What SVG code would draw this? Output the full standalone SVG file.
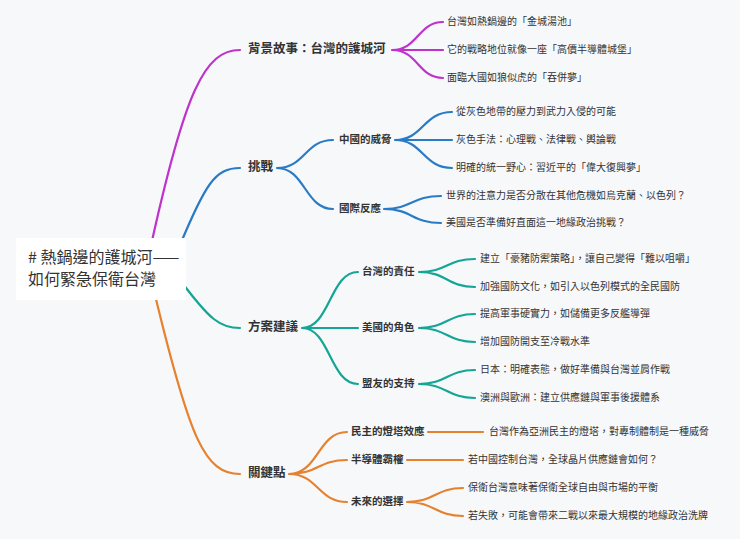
<svg xmlns="http://www.w3.org/2000/svg" width="740" height="539" viewBox="0 0 740 539">
<style>
text{font-family:"Noto Sans CJK TC","Noto Sans CJK SC",sans-serif;fill:#333;dominant-baseline:middle}
.l1{font-size:12.5px;font-weight:bold}
.l2{font-size:10.5px;font-weight:bold}
.lf{font-size:10px}
.c path{fill:none;stroke-width:2.2;stroke-linecap:round}
.p{stroke:#bf33cc}.b{stroke:#2a7bc6}.t{stroke:#15a596}.o{stroke:#e6812e}
</style>
<rect width="740" height="539" fill="#f7f8fa"/>
<g id="connectors" class="c">
<path class="p" d="M150,250 C185,90 205,50 240,50"/>
<path class="b" d="M180,245 C205,185 215,168 240,168"/>
<path class="t" d="M180,280 C210,320 220,328 240,328"/>
<path class="o" d="M155,295 C190,440 205,474 240,474"/>
<path class="p" d="M392,50 C418,50 418,22 443,22 M392,50 H443 M392,50 C418,50 418,78 443,78"/>
<path class="b" d="M277,168 C305,168 305,140 333,140 M277,168 C305,168 305,209 333,209"/>
<path class="b" d="M395,140 C423,140 423,112 452,112 M395,140 H452 M395,140 C423,140 423,168 452,168"/>
<path class="b" d="M384,209 C412,209 412,196 441,196 M384,209 C412,209 412,223 441,223"/>
<path class="t" d="M302,328 C330,328 330,272 358,272 M302,328 H358 M302,328 C330,328 330,384 358,384"/>
<path class="t" d="M419,272 C447,272 447,259 475,259 M419,272 C447,272 447,287 475,287"/>
<path class="t" d="M419,328 C447,328 447,314 475,314 M419,328 C447,328 447,342 475,342"/>
<path class="t" d="M419,384 C447,384 447,370 475,370 M419,384 C447,384 447,398 475,398"/>
<path class="o" d="M289,474 C318,474 318,432 347,432 M289,474 C318,474 318,460 347,460 M289,474 C318,474 318,502 347,502"/>
<path class="o" d="M428,432 H483"/>
<path class="o" d="M407,460 H463"/>
<path class="o" d="M407,502 C435,502 435,488 463,488 M407,502 C435,502 435,516 463,516"/>
</g>
<g id="root"><rect x="16" y="238" width="170" height="62" fill="#fff"/><text x="28" y="259" font-size="16"># 熱鍋邊的護城河——</text><text x="28" y="281" font-size="16">如何緊急保衛台灣</text></g>
<g id="n1"><text class="l1" x="248" y="50">背景故事：台灣的護城河</text></g>
<g id="n1a"><text class="lf" x="447" y="22">台灣如熱鍋邊的「金城湯池」</text></g>
<g id="n1b"><text class="lf" x="447" y="50">它的戰略地位就像一座「高價半導體城堡」</text></g>
<g id="n1c"><text class="lf" x="447" y="78">面臨大國如狼似虎的「吞併夢」</text></g>
<g id="n2"><text class="l1" x="248" y="168">挑戰</text></g>
<g id="n2a"><text class="l2" x="339" y="140">中國的威脅</text></g>
<g id="n2a1"><text class="lf" x="456" y="112">從灰色地帶的壓力到武力入侵的可能</text></g>
<g id="n2a2"><text class="lf" x="456" y="140">灰色手法：心理戰、法律戰、輿論戰</text></g>
<g id="n2a3"><text class="lf" x="456" y="168">明確的統一野心：習近平的「偉大復興夢」</text></g>
<g id="n2b"><text class="l2" x="339" y="209">國際反應</text></g>
<g id="n2b1"><text class="lf" x="446" y="196">世界的注意力是否分散在其他危機如烏克蘭、以色列？</text></g>
<g id="n2b2"><text class="lf" x="446" y="223">美國是否準備好直面這一地緣政治挑戰？</text></g>
<g id="n3"><text class="l1" x="248" y="328">方案建議</text></g>
<g id="n3a"><text class="l2" x="362" y="272">台灣的責任</text></g>
<g id="n3a1"><text class="lf" x="480" y="259">建立「豪豬防禦策略」，讓自己變得「難以咀嚼」</text></g>
<g id="n3a2"><text class="lf" x="480" y="287">加強國防文化，如引入以色列模式的全民國防</text></g>
<g id="n3b"><text class="l2" x="362" y="328">美國的角色</text></g>
<g id="n3b1"><text class="lf" x="480" y="314">提高軍事硬實力，如儲備更多反艦導彈</text></g>
<g id="n3b2"><text class="lf" x="480" y="342">增加國防開支至冷戰水準</text></g>
<g id="n3c"><text class="l2" x="362" y="384">盟友的支持</text></g>
<g id="n3c1"><text class="lf" x="480" y="370">日本：明確表態，做好準備與台灣並肩作戰</text></g>
<g id="n3c2"><text class="lf" x="480" y="398">澳洲與歐洲：建立供應鏈與軍事後援體系</text></g>
<g id="n4"><text class="l1" x="248" y="474">關鍵點</text></g>
<g id="n4a"><text class="l2" x="351" y="432">民主的燈塔效應</text></g>
<g id="n4a1"><text class="lf" x="489" y="432">台灣作為亞洲民主的燈塔，對專制體制是一種威脅</text></g>
<g id="n4b"><text class="l2" x="351" y="460">半導體霸權</text></g>
<g id="n4b1"><text class="lf" x="468" y="460">若中國控制台灣，全球晶片供應鏈會如何？</text></g>
<g id="n4c"><text class="l2" x="351" y="502">未來的選擇</text></g>
<g id="n4c1"><text class="lf" x="468" y="488">保衛台灣意味著保衛全球自由與市場的平衡</text></g>
<g id="n4c2"><text class="lf" x="468" y="516">若失敗，可能會帶來二戰以來最大規模的地緣政治洗牌</text></g>
</svg>
